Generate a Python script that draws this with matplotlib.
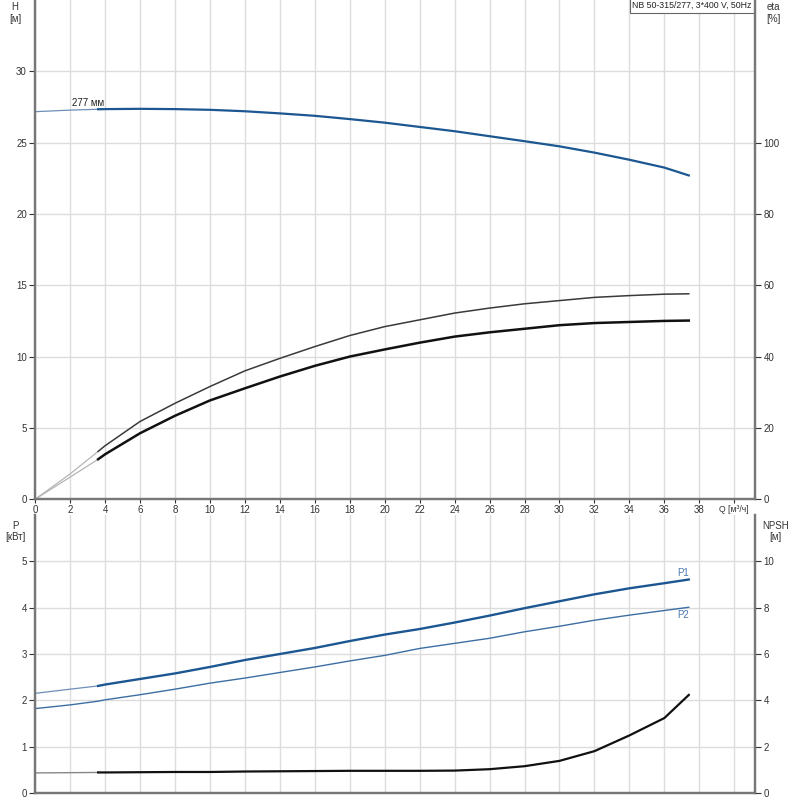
import matplotlib
matplotlib.use("Agg")
import matplotlib.pyplot as plt
import numpy as np

plt.rcParams['font.family'] = ['Liberation Sans', 'DejaVu Sans']

# flow points, m3/h
q = [0, 2, 3.6, 4, 6, 8, 10, 12, 14, 16, 18, 20, 22, 24, 26, 28, 30, 32, 34, 36, 37.4]
h = [27.17, 27.28, 27.34, 27.35, 27.37, 27.35, 27.3, 27.2, 27.05, 26.88, 26.65, 26.4,
     26.1, 25.8, 25.45, 25.1, 24.74, 24.3, 23.8, 23.25, 22.7]
eta_a = [0, 7.1, 13.4, 15.0, 21.8, 26.9, 31.6, 36.0, 39.5, 42.8, 45.9, 48.4,
         50.3, 52.2, 53.6, 54.8, 55.7, 56.6, 57.1, 57.5, 57.6]
eta_b = [0, 6.2, 11.2, 12.6, 18.5, 23.4, 27.7, 31.1, 34.4, 37.4, 40.0, 42.0,
         43.9, 45.6, 46.8, 47.8, 48.8, 49.4, 49.7, 50.0, 50.1]
p1 = [2.15, 2.24, 2.31, 2.34, 2.46, 2.58, 2.72, 2.87, 3.0, 3.13, 3.28, 3.42,
      3.54, 3.68, 3.83, 3.99, 4.14, 4.29, 4.42, 4.53, 4.61]
p2 = [1.82, 1.9, 1.98, 2.01, 2.12, 2.24, 2.37, 2.48, 2.6, 2.72, 2.85, 2.97,
      3.12, 3.23, 3.34, 3.48, 3.6, 3.73, 3.84, 3.94, 4.01]
npsh = [0.86, 0.87, 0.88, 0.88, 0.89, 0.9, 0.9, 0.92, 0.93, 0.94, 0.95, 0.95,
        0.95, 0.96, 1.02, 1.15, 1.38, 1.8, 2.48, 3.23, 4.23]

q = np.array(q)
lo = q <= 3.6
hi = q >= 3.6

blue = "#1d5792"
grid_c = "#dcdcdc"
spine_c = "#777777"
fs = 7

fig = plt.figure(figsize=(8, 8), dpi=100)
ax = fig.add_axes([0.044, 0.376, 0.9, 0.624])
ax2 = ax.twinx()
bx = fig.add_axes([0.044, 0.009, 0.9, 0.347])
bx2 = bx.twinx()

def style(a, b, ymax, yticks, rmax, rticks):
    a.set_xlim(0, 41.2)
    a.set_ylim(0, ymax)
    b.set_ylim(0, rmax)
    a.set_xticks(np.arange(0, 41, 2))
    a.set_yticks(yticks)
    b.set_yticks(rticks)
    a.grid(True, color=grid_c, lw=1)
    a.set_axisbelow(True)
    a.spines["top"].set_visible(False)
    b.spines["top"].set_visible(False)
    for s in ["left", "bottom", "right"]:
        a.spines[s].set_color(spine_c)
        a.spines[s].set_linewidth(1.6)
        b.spines[s].set_color(spine_c)
        b.spines[s].set_linewidth(1.6)
    a.tick_params(labelsize=fs, length=4, width=0.8, pad=2, colors="#333333")
    b.tick_params(labelsize=fs, length=4, width=0.8, pad=2, colors="#333333")

style(ax, ax2, 35, range(0, 31, 5), 140, range(0, 101, 20))
style(bx, bx2, 6, range(0, 6), 12, range(0, 11, 2))

xl = [str(v) for v in range(0, 39, 2)] + ["Q [м³/ч]"]
ax.set_xticklabels(xl)
ax.tick_params(axis="x", length=3, pad=1)
ax.get_xticklabels()[-1].set_fontsize(6.2)
bx.tick_params(axis="x", labelbottom=False, length=0)

# H curve
ax.plot(q[lo], np.array(h)[lo], color="#6d8fb8", lw=0.9)
ax.plot(q[hi], np.array(h)[hi], color=blue, lw=1.6)
ax.text(2.1, 27.6, "277 мм", fontsize=fs, color="#222222")

# eta curves
ax2.plot(q[lo], np.array(eta_a)[lo], color="#b5b5b5", lw=0.9)
ax2.plot(q[lo], np.array(eta_b)[lo], color="#b5b5b5", lw=0.9)
ax2.plot(q[hi], np.array(eta_a)[hi], color="#3a3a3a", lw=1.1)
ax2.plot(q[hi], np.array(eta_b)[hi], color="#111111", lw=1.8)

# power curves
bx.plot(q[lo], np.array(p1)[lo], color="#6d8fb8", lw=0.9)
bx.plot(q[hi], np.array(p1)[hi], color=blue, lw=1.7)
bx.plot(q, p2, color="#3c6ea4", lw=1.0)
bx.text(37.4, 4.65, "P1", fontsize=fs, color="#4a78b0", ha="right", va="bottom")
bx.text(37.4, 3.95, "P2", fontsize=fs, color="#4a78b0", ha="right", va="top")

# NPSH
bx2.plot(q[lo], np.array(npsh)[lo], color="#888888", lw=1.0)
bx2.plot(q[hi], np.array(npsh)[hi], color="#111111", lw=1.6)

# axis labels
fig.text(0.019, 0.997, "H\n[м]", fontsize=fs, ha="center", va="top", color="#333333")
fig.text(0.967, 0.997, "eta\n[%]", fontsize=fs, ha="center", va="top", color="#333333")
fig.text(0.019, 0.349, "P\n[кВт]", fontsize=fs, ha="center", va="top", color="#333333")
fig.text(0.969, 0.349, "NPSH\n[м]", fontsize=fs, ha="center", va="top", color="#333333")

ax.text(0.995, 0.998, "NB 50-315/277, 3*400 V, 50Hz", transform=ax.transAxes,
        fontsize=6.3, ha="right", va="top", color="#222222",
        bbox=dict(boxstyle="square,pad=0.3", fc="white", ec="#666666", lw=0.8))

fig.savefig("out.png", dpi=100)
